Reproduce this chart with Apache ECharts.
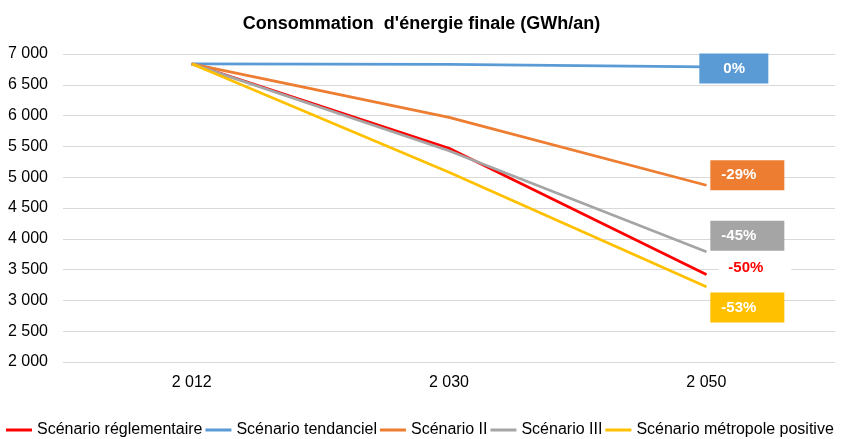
<!DOCTYPE html>
<html>
<head>
<meta charset="utf-8">
<script src="https://cdn.jsdelivr.net/npm/echarts@6/dist/echarts.min.js"></script>
<style>
  html, body { margin: 0; padding: 0; background: #fff; }
  #chart { width: 843px; height: 439px; }
</style>
</head>
<body>
<div id="chart"></div>
<script>
// data
const years = ['2 012', '2 030', '2 050'];
const reglementaire = [6840, 5470, 3420];
const tendanciel = [6840, 6830, 6790];
const scenarioII = [6840, 5970, 4870];
const scenarioIII = [6840, 5430, 3790];
const positive = [6840, 5080, 3220];
const endLabels = ['-50%', '0%', '-29%', '-45%', '-53%'];

const names = ['Scénario réglementaire', 'Scénario tendanciel', 'Scénario II', 'Scénario III', 'Scénario métropole positive'];
const colors = ['#FF0000', '#5B9BD5', '#ED7D31', '#A5A5A5', '#FFC000'];
const values = [reglementaire, tendanciel, scenarioII, scenarioIII, positive];

// label boxes at the end of each line
const labelStyles = [
  { offset: [11.5, -6.5], color: '#FF0000', backgroundColor: '#fff', width: 63, padding: [0, 0, 0, 10] },
  { offset: [-7.5, 1.5], color: '#fff', backgroundColor: '#5B9BD5', width: 45, padding: [0, 0, 0, 24] },
  { offset: [3.5, -10], color: '#fff', backgroundColor: '#ED7D31', width: 63, padding: [0, 0, 0, 11] },
  { offset: [3.5, -16], color: '#fff', backgroundColor: '#A5A5A5', width: 63, padding: [0, 0, 0, 11] },
  { offset: [3.5, 20.7], color: '#fff', backgroundColor: '#FFC000', width: 63, padding: [0, 0, 0, 11] }
];

const fmt = v => String(v).replace(/\B(?=(\d{3})+(?!\d))/g, ' ');

const chart = echarts.init(document.getElementById('chart'));

const series = names.map((name, i) => ({
  name: name,
  type: 'line',
  symbol: 'circle',
  symbolSize: 1,
  showSymbol: true,
  silent: true,
  lineStyle: { width: 2.75, color: colors[i] },
  itemStyle: { color: colors[i] },
  data: values[i].map((v, j) => {
    if (j !== values[i].length - 1) return v;
    const s = labelStyles[i];
    return {
      value: v,
      label: {
        show: true,
        position: 'right',
        distance: 0,
        offset: s.offset,
        formatter: endLabels[i],
        color: s.color,
        backgroundColor: s.backgroundColor,
        width: s.width,
        height: 30,
        lineHeight: 30,
        padding: s.padding,
        align: 'left',
        fontFamily: 'Liberation Sans',
        fontWeight: 'bold',
        fontSize: 15
      }
    };
  })
}));

chart.setOption({
  animation: false,
  title: {
    text: "Consommation  d'énergie finale (GWh/an)",
    left: 'center',
    top: 10,
    textStyle: { fontFamily: 'Liberation Sans', fontWeight: 'bold', fontSize: 18, color: '#000' }
  },
  legend: {
    left: 6,
    top: 422,
    width: 837,
    padding: 0,
    itemWidth: 26,
    itemHeight: 3,
    itemGap: 3,
    icon: 'rect',
    textStyle: { fontFamily: 'Liberation Sans', fontSize: 16, color: '#000' },
    data: names
  },
  grid: { left: 63, right: 8, top: 54, bottom: 77 },
  xAxis: {
    type: 'category',
    data: years,
    boundaryGap: true,
    axisLine: { show: false },
    axisTick: { show: false },
    axisLabel: { margin: 13, fontFamily: 'Liberation Sans', fontSize: 16, color: '#000' }
  },
  yAxis: {
    type: 'value',
    min: 2000,
    max: 7000,
    interval: 500,
    axisLine: { show: false },
    axisTick: { show: false },
    axisLabel: { margin: 15, fontFamily: 'Liberation Sans', fontSize: 16, color: '#000', formatter: fmt },
    splitLine: { lineStyle: { color: '#D9D9D9', width: 1 } }
  },
  series: series
});
</script>
</body>
</html>
